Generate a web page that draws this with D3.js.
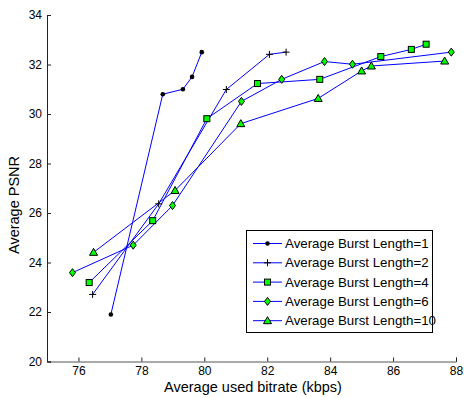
<!DOCTYPE html>
<html>
<head>
<meta charset="utf-8">
<script src="https://cdn.jsdelivr.net/npm/d3@7"></script>
<style>
  body { margin: 0; background: #fff; }
  svg { display: block; font-family: "Liberation Sans", Arial, sans-serif; }
</style>
</head>
<body>
<svg id="chart" width="464" height="398"></svg>
<script>
// ---- data ----
const seriesNames = ["Average Burst Length=1", "Average Burst Length=2", "Average Burst Length=4", "Average Burst Length=6", "Average Burst Length=10"];
const markerTypes = ["dot", "plus", "square", "diamond", "triangle"];

const abl1X = [77.03, 78.68, 79.32, 79.61, 79.92];
const abl1Y = [21.9, 30.8, 31.0, 31.5, 32.5];

const abl2X = [76.45, 78.55, 80.70, 82.07, 82.60];
const abl2Y = [22.71, 26.37, 30.99, 32.41, 32.5];

const abl4X = [76.34, 78.36, 80.08, 81.69, 83.67, 85.61, 86.58, 87.05];
const abl4Y = [23.19, 25.69, 29.81, 31.23, 31.40, 32.32, 32.61, 32.82];

const abl6X = [75.81, 77.74, 78.99, 81.18, 82.46, 83.82, 84.71, 87.85];
const abl6Y = [23.59, 24.70, 26.30, 30.51, 31.40, 32.12, 32.01, 32.50];

const abl10X = [76.48, 79.07, 81.16, 83.62, 85.00, 85.31, 87.64];
const abl10Y = [24.41, 26.91, 29.61, 30.63, 31.74, 31.94, 32.14];

const xTicks = [76, 78, 80, 82, 84, 86, 88];
const yTicks = [20, 22, 24, 26, 28, 30, 32, 34];
const xLabel = "Average used bitrate (kbps)";
const yLabel = "Average PSNR";

const allX = [abl1X, abl2X, abl4X, abl6X, abl10X];
const allY = [abl1Y, abl2Y, abl4Y, abl6Y, abl10Y];
const series = seriesNames.map((name, i) => ({
  name, marker: markerTypes[i],
  pts: allX[i].map((x, j) => ({ x, y: allY[i][j] }))
}));

// ---- layout ----
const svg = d3.select("#chart");
const L = 47, R = 456, T = 15, B = 361.5;
const x = d3.scaleLinear().domain([75, 88]).range([L, R]);
const y = d3.scaleLinear().domain([20, 34]).range([B, T]);

const lineColor = "#0000ff";
const green = "#00ff00";

// axes
const xAxis = svg.append("g").attr("transform", `translate(0,${B})`)
  .call(d3.axisBottom(x).tickValues(xTicks).tickSize(-4).tickPadding(5).tickFormat(d3.format("d")));
const yAxis = svg.append("g").attr("transform", `translate(${L},0)`)
  .call(d3.axisLeft(y).tickValues(yTicks).tickSize(-4).tickPadding(5).tickFormat(d3.format("d")));
[xAxis, yAxis].forEach(g => {
  g.select(".domain").attr("stroke", "#222").attr("stroke-width", 1);
  g.selectAll(".tick line").attr("stroke", "#222");
  g.selectAll(".tick text").attr("fill", "#000").style("font-size", "12px")
    .style("font-family", "Liberation Sans, Arial, sans-serif");
});
xAxis.select(".domain").attr("stroke", "#555");

// labels
svg.append("text").attr("x", 253).attr("y", 391.5)
  .attr("text-anchor", "middle").style("font-size", "14.5px").attr("fill", "#000").text(xLabel);
svg.append("text").attr("transform", `translate(19,205) rotate(-90)`)
  .attr("text-anchor", "middle").style("font-size", "14.5px").attr("fill", "#000").text(yLabel);

// markers
function drawMarker(g, type, cx, cy) {
  if (type === "dot") {
    g.append("circle").attr("cx", cx).attr("cy", cy).attr("r", 2.3).attr("fill", "#000");
  } else if (type === "plus") {
    g.append("path").attr("d", `M${cx - 3.5},${cy}H${cx + 3.5}M${cx},${cy - 3.5}V${cy + 3.5}`)
      .attr("stroke", "#000").attr("stroke-width", 1);
  } else if (type === "square") {
    g.append("rect").attr("x", cx - 3).attr("y", cy - 3).attr("width", 6).attr("height", 6)
      .attr("fill", green).attr("stroke", "#000").attr("stroke-width", 1);
  } else if (type === "diamond") {
    g.append("path").attr("d", `M${cx},${cy - 4}L${cx + 3},${cy}L${cx},${cy + 4}L${cx - 3},${cy}Z`)
      .attr("fill", green).attr("stroke", "#000").attr("stroke-width", 1);
  } else if (type === "triangle") {
    g.append("path").attr("d", `M${cx},${cy - 4}L${cx + 4},${cy + 3}L${cx - 4},${cy + 3}Z`)
      .attr("fill", green).attr("stroke", "#000").attr("stroke-width", 1);
  }
}

const line = d3.line().x(d => x(d.x)).y(d => y(d.y));
series.forEach(s => {
  svg.append("path").datum(s.pts).attr("d", line)
    .attr("fill", "none").attr("stroke", lineColor).attr("stroke-width", 1);
});
series.forEach(s => {
  const g = svg.append("g");
  s.pts.forEach(p => drawMarker(g, s.marker, x(p.x), y(p.y)));
});

// legend
const lg = svg.append("g");
lg.append("rect").attr("x", 246.5).attr("y", 230.5).attr("width", 186).attr("height", 102)
  .attr("fill", "#fff").attr("stroke", "#000").attr("stroke-width", 1);
series.forEach((s, i) => {
  const ry = 243.5 + i * 19.3;
  lg.append("line").attr("x1", 253).attr("x2", 282).attr("y1", ry).attr("y2", ry)
    .attr("stroke", lineColor).attr("stroke-width", 1);
  drawMarker(lg, s.marker, 267.5, ry);
  lg.append("text").attr("x", 285).attr("y", ry + 4.5).style("font-size", "13.3px")
    .attr("fill", "#000").text(s.name);
});
</script>
</body>
</html>
